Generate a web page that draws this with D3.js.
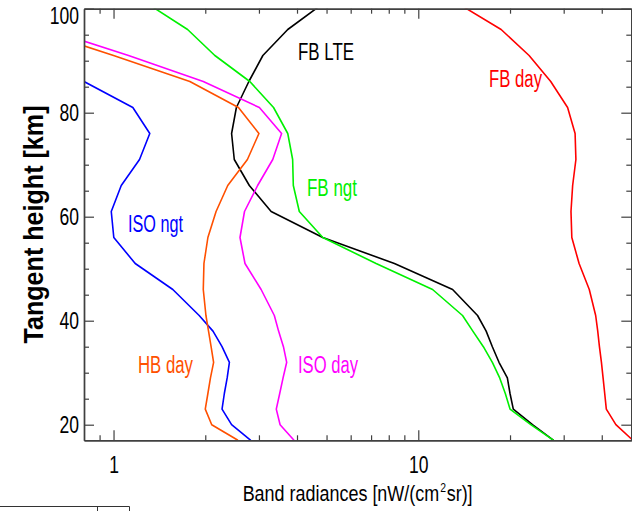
<!DOCTYPE html>
<html>
<head>
<meta charset="utf-8">
<script src="https://cdn.jsdelivr.net/npm/d3@7"></script>
<style>
  html, body { margin: 0; padding: 0; background: #fff; }
  svg { display: block; }
  text { font-family: "Liberation Sans", Arial, Helvetica, sans-serif; }
</style>
</head>
<body>
<svg id="chart" width="632" height="511"></svg>
<script>
// Tangent heights of the limb profiles [km]
const heights = [17, 20, 23, 26, 29, 32, 35, 38, 41, 46, 51, 56, 61, 66, 71, 76, 81, 86, 91, 96, 101];

// Band radiances [nW/(cm2 sr)] per profile, one value per tangent height
const fbLte  = [27.8, 23.7, 20.5, 20.0, 19.6, 18.4, 17.5, 16.7, 15.65, 12.96, 8.35, 4.86, 3.29, 2.79, 2.49, 2.44, 2.53, 2.78, 3.09, 3.73, 4.87];
const fbDay  = [50.6, 44.5, 41.4, 40.9, 40.4, 39.9, 39.3, 38.8, 38.2, 36.4, 33.7, 31.9, 31.7, 32.1, 32.9, 32.7, 30.9, 27.2, 23.1, 18.7, 13.5];
const fbNgt  = [27.8, 23.4, 20.0, 19.3, 18.5, 17.5, 16.35, 15.1, 13.97, 11.14, 7.27, 4.86, 4.07, 3.89, 3.87, 3.73, 3.35, 2.80, 2.15, 1.75, 1.29];
const isoNgt = [2.82, 2.44, 2.27, 2.31, 2.36, 2.40, 2.27, 2.12, 1.91, 1.565, 1.178, 1.002, 0.983, 1.06, 1.217, 1.315, 1.157, 0.80, 0.55, null, null];
const hbDay  = [2.56, 2.10, 2.00, 2.04, 2.08, 2.13, 2.09, 2.05, 2.01, 1.97, 1.98, 2.04, 2.17, 2.37, 2.75, 3.00, 2.57, 1.78, 1.00, 0.55, null];
const isoDay = [3.91, 3.52, 3.42, 3.51, 3.60, 3.70, 3.61, 3.48, 3.37, 3.05, 2.70, 2.60, 2.69, 2.97, 3.33, 3.56, 3.01, 1.97, 1.12, 0.61, null];

const seriesNames = ["FB LTE", "FB day", "FB ngt", "ISO ngt", "HB day", "ISO day"];

// Axis ranges and ticks
const xDomain = [0.8, 50];
const yDomain = [17, 100];
const xMajorTicks = [1, 10];
const xMinorTicks = [0.9, 2, 3, 4, 5, 6, 7, 8, 9, 20, 30, 40];
const yMajorTicks = [20, 40, 60, 80, 100];
const yMinorTicks = [25, 30, 35, 45, 50, 55, 65, 70, 75, 85, 90, 95];

// x title pieces: main text, superscript, tail
const xTitleParts = ["Band radiances [nW/(cm", "2", "sr)]"];
const yTitle = "Tangent height [km]";

// ---- layout ----
const svg = d3.select("#chart");
const frameL = 84, frameT = 8.7, frameR = 631.3, frameB = 440.3;
const pw = frameR - frameL, ph = frameB - frameT;

const x = d3.scaleLog().domain(xDomain).range([0, pw]);
const y = d3.scaleLinear().domain(yDomain).range([ph, 0]);

const plot = svg.append("g").attr("transform", `translate(${frameL},${frameT})`);

svg.append("defs").append("clipPath").attr("id", "plotClip")
  .append("rect").attr("x", 0).attr("y", 0).attr("width", pw).attr("height", ph);

// ---- profiles ----
const profiles = [
  { name: seriesNames[0], values: fbLte,  color: "#000000", label: [298, 60, 56] },
  { name: seriesNames[1], values: fbDay,  color: "#ff0000", label: [489, 87, 53] },
  { name: seriesNames[2], values: fbNgt,  color: "#00f000", label: [307, 196, 50] },
  { name: seriesNames[3], values: isoNgt, color: "#0000ff", label: [128, 232, 55] },
  { name: seriesNames[4], values: hbDay,  color: "#ff5000", label: [138, 373, 55] },
  { name: seriesNames[5], values: isoDay, color: "#ff00ff", label: [298, 373, 60] }
];

const line = d3.line()
  .defined(d => d.v != null)
  .x(d => x(d.v))
  .y(d => y(d.h));

const lines = plot.append("g").attr("clip-path", "url(#plotClip)");
profiles.forEach(p => {
  const pts = heights.map((h, i) => ({ h, v: p.values[i] }));
  lines.append("path")
    .datum(pts)
    .attr("d", line)
    .attr("fill", "none")
    .attr("stroke", p.color)
    .attr("stroke-width", 1.6)
    .attr("stroke-linejoin", "round");
});

// ---- axes (ticks point inward on all four sides) ----
const axisColor = "#404040";
function styleAxis(g) {
  g.attr("font-size", null).attr("font-family", null);
  g.selectAll("path.domain").attr("stroke", axisColor).attr("stroke-width", 1.4);
  g.selectAll(".tick line").attr("stroke", axisColor).attr("stroke-width", 1.2);
  g.selectAll(".tick text").attr("fill", "#000").attr("font-size", 24);
}

const labelSx = 0.73;

// bottom
plot.append("g").attr("transform", `translate(0,${ph})`)
  .call(d3.axisBottom(x).tickValues(xMinorTicks).tickFormat("").tickSizeInner(-5).tickSizeOuter(0))
  .call(styleAxis);
plot.append("g").attr("transform", `translate(0,${ph})`)
  .call(d3.axisBottom(x).tickValues(xMajorTicks).tickFormat(d3.format("d"))
        .tickSizeInner(-10).tickSizeOuter(0).tickPadding(16))
  .call(styleAxis)
  .call(g => g.selectAll(".tick text").attr("transform", `scale(${labelSx},1)`));

// top
plot.append("g")
  .call(d3.axisTop(x).tickValues(xMinorTicks).tickFormat("").tickSizeInner(-5).tickSizeOuter(0))
  .call(styleAxis);
plot.append("g")
  .call(d3.axisTop(x).tickValues(xMajorTicks).tickFormat("").tickSizeInner(-10).tickSizeOuter(0))
  .call(styleAxis);

// left
plot.append("g")
  .call(d3.axisLeft(y).tickValues(yMinorTicks).tickFormat("").tickSizeInner(-5).tickSizeOuter(0))
  .call(styleAxis);
plot.append("g")
  .call(d3.axisLeft(y).tickValues(yMajorTicks).tickFormat(d3.format("d"))
        .tickSizeInner(-10).tickSizeOuter(0).tickPadding(5))
  .call(styleAxis)
  .call(g => g.selectAll(".tick text")
    .attr("x", -5 / labelSx)
    // keep the top label inside the frame
    .attr("y", d => Math.max(0, 7 - y(d)))
    .attr("transform", `scale(${labelSx},1)`));

// right
plot.append("g").attr("transform", `translate(${pw},0)`)
  .call(d3.axisRight(y).tickValues(yMinorTicks).tickFormat("").tickSizeInner(-5).tickSizeOuter(0))
  .call(styleAxis);
plot.append("g").attr("transform", `translate(${pw},0)`)
  .call(d3.axisRight(y).tickValues(yMajorTicks).tickFormat("").tickSizeInner(-10).tickSizeOuter(0))
  .call(styleAxis);

// ---- profile labels ----
profiles.forEach(p => {
  const [lx, ly, lw] = p.label;
  svg.append("text")
    .attr("x", lx).attr("y", ly)
    .attr("font-size", 23.5)
    .attr("fill", p.color)
    .attr("textLength", lw)
    .attr("lengthAdjust", "spacingAndGlyphs")
    .text(p.name);
});

// ---- x axis title: three pieces in one horizontally squeezed group, centred on the axis ----
{
  const sizes = [22.5, 13, 22.5];
  const dys = [0, -9, 0];
  const gap = 1;
  const total = 230;
  const grp = svg.append("g");
  const parts = xTitleParts.map((s, i) => grp.append("text")
    .attr("font-size", sizes[i]).attr("fill", "#000").attr("y", dys[i]).text(s));
  const natural = parts.map(t => t.node().getComputedTextLength());
  const naturalTotal = d3.sum(natural) + gap * (parts.length - 1);
  const k = total / naturalTotal;
  let cx = 0;
  parts.forEach((t, i) => { t.attr("x", cx); cx += natural[i] + gap; });
  const x0 = (frameL + frameR) / 2 - total / 2;
  grp.attr("transform", `translate(${x0},501) scale(${k},1)`);
}

// ---- y axis title, centred on the axis ----
svg.append("text")
  .attr("transform", `translate(43,${(frameT + frameB) / 2}) rotate(-90)`)
  .attr("text-anchor", "middle")
  .attr("font-size", 27)
  .attr("font-weight", "bold")
  .attr("fill", "#000")
  .attr("textLength", 238)
  .attr("lengthAdjust", "spacingAndGlyphs")
  .text(yTitle);

// small framed cell in the lower-left corner
svg.append("path")
  .attr("d", "M0,506.5H129.5M97.5,506.5V511M129.5,506.5V511")
  .attr("fill", "none")
  .attr("stroke", "#333")
  .attr("stroke-width", 1);
</script>
</body>
</html>
